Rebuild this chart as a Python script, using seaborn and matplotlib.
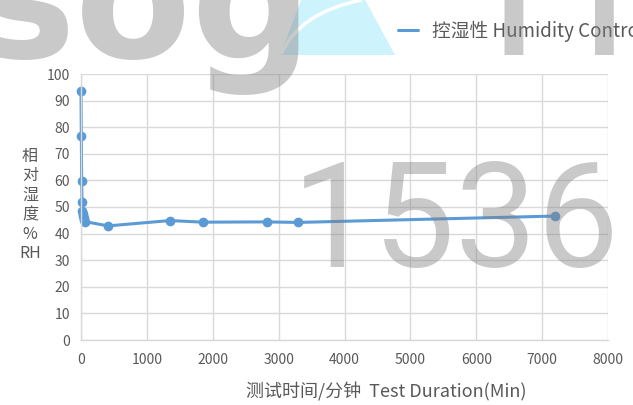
import matplotlib
matplotlib.use("Agg")
import matplotlib.pyplot as plt
import numpy as np
import pandas as pd
import seaborn as sns
from matplotlib.lines import Line2D
from matplotlib.patches import Polygon, PathPatch
from matplotlib.path import Path

# Humidity-control test: relative humidity vs. elapsed time
time_min = [0, 5, 10, 15, 20, 25, 30, 40, 50, 60, 410, 1350, 1850, 2820, 3290, 7200]
rh_pct = [93.5, 76.8, 59.7, 52.0, 48.5, 47.5, 46.8, 46.0, 45.2, 44.5,
          42.9, 44.9, 44.3, 44.4, 44.2, 46.6]
series_label = "控湿性 Humidity Control"
x_ticks = [0, 1000, 2000, 3000, 4000, 5000, 6000, 7000, 8000]
y_ticks = [0, 10, 20, 30, 40, 50, 60, 70, 80, 90, 100]
x_title = "测试时间/分钟  Test Duration(Min)"
y_title = "相\n对\n湿\n度\n%\nRH"

sns.set_style("white")
plt.rcParams["font.family"] = ["Noto Sans CJK SC", "DejaVu Sans"]

W, H = 633, 405
fig = plt.figure(figsize=(W / 100, H / 100), dpi=100)


def fx(px):
    return px / W


def fy(py):
    return 1 - py / H


ax = fig.add_axes([fx(81), fy(340), fx(608) - fx(81), fy(74) - fy(340)])

df = pd.DataFrame({"time": time_min, "rh": rh_pct})
sns.lineplot(data=df, x="time", y="rh", ax=ax, sort=False, color="#5b9bd5",
             linewidth=2.2, marker="o", markersize=7, markeredgewidth=0,
             legend=False)
for ln in ax.lines:
    ln.set_clip_on(False)

ax.set_xlim(0, 8000)
ax.set_ylim(0, 100)
ax.set_xticks(x_ticks)
ax.set_yticks(y_ticks)
ax.grid(True, color="#d9d9d9", linewidth=1)
ax.set_axisbelow(True)
for s in ["top", "right"]:
    ax.spines[s].set_visible(False)
for s in ["left", "bottom"]:
    ax.spines[s].set_color("#d9d9d9")
    ax.spines[s].set_linewidth(1)
ax.tick_params(length=0, labelsize=10, labelcolor="#595959")
ax.tick_params(axis="y", pad=8)
ax.tick_params(axis="x", pad=9)
ax.set_xlabel("")
ax.set_ylabel("")

fig.text(fx(386), fy(392), x_title, ha="center", va="center",
         fontsize=13, color="#595959")
fig.text(fx(30), fy(205), y_title, ha="center", va="center",
         fontsize=11.5, color="#595959", linespacing=1.2)

handle = Line2D([], [], color="#5b9bd5", linewidth=2.2)
fig.legend([handle], [series_label], loc="center left",
           bbox_to_anchor=(fx(398), fy(31)), frameon=False, fontsize=13.5,
           handlelength=1.07, handletextpad=0.75, borderpad=0,
           borderaxespad=0, labelcolor="#595959")

# Watermark: logo letters, cyan mark and serial number
mark = Polygon([[fx(280), fy(55)], [fx(395), fy(55)], [fx(364), fy(-2)],
                [fx(302), fy(-2)]], closed=True, transform=fig.transFigure,
               facecolor="#cdf3fc", edgecolor="none", zorder=9)
fig.add_artist(mark)
arc = PathPatch(Path([[fx(281), fy(54)], [fx(300), fy(12)], [fx(362), fy(0)]],
                     [Path.MOVETO, Path.CURVE3, Path.CURVE3]),
                transform=fig.transFigure, facecolor="none",
                edgecolor="white", linewidth=2.5, zorder=9)
fig.add_artist(arc)
wm = dict(color="#808080", alpha=0.42, zorder=10)
fig.text(fx(-26), fy(58), "sog", ha="left", va="baseline", fontsize=122,
         fontweight="bold", family="DejaVu Sans", **wm)
fig.text(fx(487), fy(55), "H", ha="left", va="baseline", fontsize=144,
         family="Roboto", **wm)
fig.text(fx(292), fy(267), "1536", ha="left", va="baseline", fontsize=105,
         family="Roboto", **wm)

fig.savefig("out.png", dpi=100)
